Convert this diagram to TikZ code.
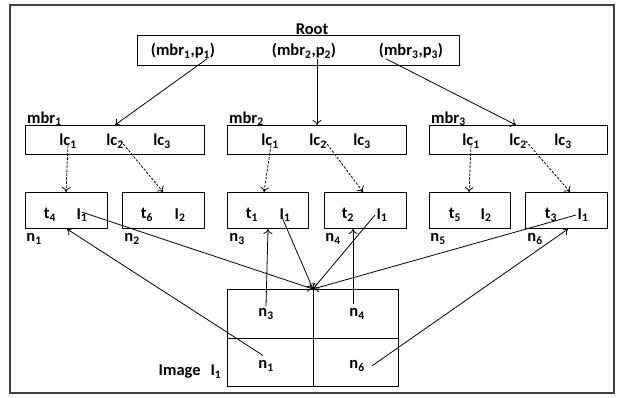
\documentclass[tikz,border=0pt]{standalone}
\usepackage{fontspec}
\setmainfont{Carlito}
\usetikzlibrary{arrows.meta}
\newcommand{\sbs}[1]{\textsubscript{#1}}
\begin{document}
\begin{tikzpicture}[x=1pt,y=-1pt,
  every node/.style={font=\fontsize{16.5}{18}\selectfont\bfseries, inner sep=0pt},
  box/.style={draw, line width=0.9pt},
  conn/.style={line width=0.8pt, -{To[length=5pt,width=9pt]}},
  dconn/.style={line width=0.8pt, dashed, dash pattern=on 2.5pt off 1.5pt, -{To[length=5pt,width=9pt]}},
  plain/.style={line width=0.8pt}]
\useasboundingbox (0,0) rectangle (618,397);
\draw[line width=1.1pt, draw=black!75] (10,5) rectangle (614,393);

% root
\node (root) at (312,29) {Root};
\draw[box] (137,35) rectangle (459,65);
\node (p1) at (183,51) {(mbr\sbs{1},p\sbs{1})};
\node (p2) at (304,51) {(mbr\sbs{2},p\sbs{2})};
\node (p3) at (411,51) {(mbr\sbs{3},p\sbs{3})};

% mbr boxes
\node[anchor=south west] (m1lab) at (27,126) {mbr\sbs{1}};
\node[anchor=south west] (m2lab) at (229,126) {mbr\sbs{2}};
\node[anchor=south west] (m3lab) at (431,126) {mbr\sbs{3}};
\draw[box] (25,125) rectangle (204,154);
\draw[box] (227,125) rectangle (406,154);
\draw[box] (429,125) rectangle (607,154);
\coordinate (m1top) at (115,125);
\coordinate (m2top) at (317,125);
\coordinate (m3top) at (516,125);

\node (a1) at (68,141) {lc\sbs{1}};
\node (a2) at (115,141) {lc\sbs{2}};
\node (a3) at (162,141) {lc\sbs{3}};
\node (b1) at (270,141) {lc\sbs{1}};
\node (b2) at (318,141) {lc\sbs{2}};
\node (b3) at (362,141) {lc\sbs{3}};
\node (c1) at (471,141) {lc\sbs{1}};
\node (c2) at (518,141) {lc\sbs{2}};
\node (c3) at (563,141) {lc\sbs{3}};

% leaf boxes
\draw[box] (25,192) rectangle (107,228);
\draw[box] (122,192) rectangle (204,228);
\draw[box] (227,192) rectangle (308,228);
\draw[box] (324,192) rectangle (406,228);
\draw[box] (429,192) rectangle (510,228);
\draw[box] (525,192) rectangle (607,228);
\coordinate (L1top) at (66,192);
\coordinate (L2top) at (163,192);
\coordinate (L3top) at (264,192);
\coordinate (L4top) at (363,192);
\coordinate (L5top) at (469,192);
\coordinate (L6top) at (570,192);
\coordinate (L1bot) at (67,229);
\coordinate (L3bot) at (268,229);
\coordinate (L4bot) at (353,229);
\coordinate (L6bot) at (568,229);

\node (t4) at (50,215) {t\sbs{4}};
\node (i41) at (82,215) {I\sbs{1}};
\node (t6) at (147,215) {t\sbs{6}};
\node (i62) at (180,215) {I\sbs{2}};
\node (t1) at (252,215) {t\sbs{1}};
\node (i11) at (285,215) {I\sbs{1}};
\node (t2) at (348,215) {t\sbs{2}};
\node (i21) at (382,215) {I\sbs{1}};
\node (t5) at (455,215) {t\sbs{5}};
\node (i52) at (486,215) {I\sbs{2}};
\node (t3) at (551,215) {t\sbs{3}};
\node (i31) at (583,215) {I\sbs{1}};

\node (n1) at (34,239) {n\sbs{1}};
\node (n2) at (132,239) {n\sbs{2}};
\node (n3) at (237,239) {n\sbs{3}};
\node (n4) at (333,239) {n\sbs{4}};
\node (n5) at (438,239) {n\sbs{5}};
\node (n6) at (535,239) {n\sbs{6}};

% image grid
\draw[box] (227,289) rectangle (398,386);
\draw[line width=0.9pt] (313,289) -- (313,386);
\draw[line width=0.9pt] (227,338) -- (398,338);
\coordinate (T) at (313,289);
\node (g3) at (266,314) {n\sbs{3}};
\node (g4) at (357,314) {n\sbs{4}};
\node (g1) at (266,366) {n\sbs{1}};
\node (g6) at (357,366) {n\sbs{6}};
\node (img) at (190,372) {Image\hspace{0.6em}I\sbs{1}};

% root arrows
\draw[conn] (p1.south east) ++(-8,0) -- (m1top);
\draw[conn] (p2.south) ++(13,0) -- (m2top);
\draw[conn] (p3.south west) ++(7,0) -- (m3top);

% dashed arrows
\draw[dconn] (a1.south) ++(0,-3) -- (L1top);
\draw[dconn] (a2.east) ++(-3,0) -- (L2top);
\draw[dconn] (b1.south) ++(1,-3) -- (L3top);
\draw[dconn] (b2.east) ++(-2,0) -- (L4top);
\draw[dconn] (c1.south) ++(0,-3) -- (L5top);
\draw[dconn] (c2.east) ++(-1,0) -- (L6top);

% to image
\draw[conn] (i41.north) ++(0,4) -- (T);
\draw[conn] (i11.center) ++(-4,0) -- (T);
\draw[conn] (i21.center) ++(-7,0) -- (T);
\draw[conn] (i31.center) ++(-7,0) -- (T);

% from image cells
\draw[conn] (g3.north) ++(0,-2) -- (L3bot);
\draw[conn] (g4.north) ++(-4,-4) -- (L4bot);
\draw[conn] (g1.north) ++(-3,-5) -- (L1bot);
\draw[conn] (g6.east) ++(7,0) -- (L6bot);
\end{tikzpicture}
\end{document}
